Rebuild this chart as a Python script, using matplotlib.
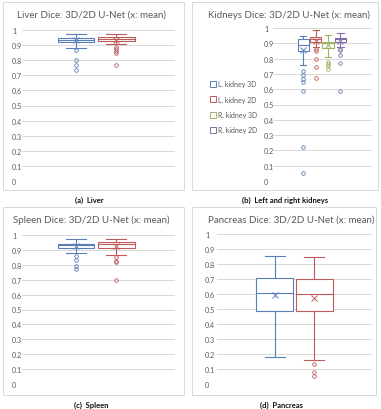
import matplotlib
matplotlib.use('Agg')
import matplotlib.pyplot as plt
from matplotlib.patches import Rectangle
from matplotlib.lines import Line2D

plt.rcParams['font.family'] = ['Lato', 'DejaVu Sans']

# ---- data ----
liver_whislo = [0.883, 0.909]
liver_q1 = [0.918, 0.929]
liver_med = [0.936, 0.940]
liver_q3 = [0.947, 0.953]
liver_whishi = [0.976, 0.976]
liver_mean = [0.931, 0.936]
liver_fliers = [[0.869, 0.800, 0.765, 0.734],
                [0.889, 0.874, 0.858, 0.845, 0.765]]

kidney_labels = ['L. kidney 3D', 'L. kidney 2D', 'R. kidney 3D', 'R. kidney 2D']
kidney_whislo = [0.755, 0.875, 0.810, 0.875]
kidney_q1 = [0.850, 0.908, 0.869, 0.908]
kidney_med = [0.890, 0.925, 0.900, 0.925]
kidney_q3 = [0.926, 0.941, 0.908, 0.936]
kidney_whishi = [0.950, 0.984, 0.951, 0.969]
kidney_mean = [0.858, 0.915, 0.886, 0.915]
kidney_fliers = [[0.716, 0.694, 0.668, 0.644, 0.585, 0.220, 0.050],
                 [0.860, 0.847, 0.795, 0.747, 0.675],
                 [0.780, 0.765, 0.750, 0.733],
                 [0.865, 0.853, 0.825, 0.770, 0.585]]

spleen_whislo = [0.882, 0.864]
spleen_q1 = [0.910, 0.910]
spleen_med = [0.930, 0.940]
spleen_q3 = [0.940, 0.950]
spleen_whishi = [0.976, 0.975]
spleen_mean = [0.925, 0.925]
spleen_fliers = [[0.862, 0.833, 0.793, 0.773],
                 [0.851, 0.827, 0.818, 0.700]]

pancreas_whislo = [0.178, 0.162]
pancreas_q1 = [0.489, 0.484]
pancreas_med = [0.609, 0.602]
pancreas_q3 = [0.709, 0.702]
pancreas_whishi = [0.851, 0.850]
pancreas_mean = [0.596, 0.573]
pancreas_fliers = [[], [0.133, 0.078, 0.056]]

colors = ['#5A7EB6', '#BE5A57', '#9CB565', '#8470A6']
yticks = [0, 0.1, 0.2, 0.3, 0.4, 0.5, 0.6, 0.7, 0.8, 0.9, 1]
ytick_labels = ['0', '0.1', '0.2', '0.3', '0.4', '0.5', '0.6', '0.7', '0.8', '0.9', '1']

W, H = 381, 410
fig = plt.figure(figsize=(W / 100, H / 100), dpi=100)
fig.patch.set_facecolor('white')


def px_ax(x0, y0, x1, y1):
    # axes from pixel box (y measured from top)
    return fig.add_axes([x0 / W, 1 - y1 / H, (x1 - x0) / W, (y1 - y0) / H])


def draw_box(ax, whislo, q1, med, q3, whishi, mean, fliers, xlim, lab_pad):
    n = len(med)
    for i in range(n):
        st = [dict(whislo=whislo[i], q1=q1[i], med=med[i], q3=q3[i],
                   whishi=whishi[i], mean=mean[i], fliers=fliers[i])]
        c = colors[i]
        ax.bxp(st, positions=[i + 1], widths=0.92, capwidths=0.5,
               showmeans=True, patch_artist=True,
               boxprops=dict(facecolor='white', edgecolor=c, linewidth=0.8),
               medianprops=dict(color=c, linewidth=0.8),
               whiskerprops=dict(color=c, linewidth=0.8),
               capprops=dict(color=c, linewidth=0.8),
               meanprops=dict(marker='x', markeredgecolor=c, markersize=4.5,
                              markeredgewidth=0.7),
               flierprops=dict(marker='o', markerfacecolor='none',
                               markeredgecolor=c, markersize=2.6,
                               markeredgewidth=0.6))
    ax.set_xlim(*xlim)
    ax.set_ylim(0, 1)
    ax.set_yticks(yticks)
    ax.set_yticklabels(ytick_labels, ha='left')
    ax.set_xticks([])
    ax.tick_params(axis='y', length=0, pad=lab_pad, labelsize=5.2, labelcolor='#595959')
    ax.grid(axis='y', color='#D9D9D9', linewidth=0.7)
    ax.set_axisbelow(True)
    for s in ax.spines.values():
        s.set_visible(False)
    for art in ax.get_children():
        if isinstance(art, Line2D):
            art.set_clip_on(False)


# chart area borders
for (x0, y0, x1, y1) in [(3, 3, 184, 191), (192, 3, 378, 191),
                         (3, 208, 184, 396), (192, 208, 376, 396)]:
    fig.add_artist(Rectangle((x0 / W, 1 - y1 / H), (x1 - x0) / W, (y1 - y0) / H,
                             transform=fig.transFigure, facecolor='none',
                             edgecolor='#D9D9D9', linewidth=0.7))

# (a) liver
ax1 = px_ax(22, 31, 175, 182)
draw_box(ax1, liver_whislo, liver_q1, liver_med, liver_q3, liver_whishi,
         liver_mean, liver_fliers, (-0.35, 3.47), 7.2)

# (b) kidneys
ax2 = px_ax(273, 29, 372, 182)
draw_box(ax2, kidney_whislo, kidney_q1, kidney_med, kidney_q3, kidney_whishi,
         kidney_mean, kidney_fliers, (-1.45, 6.55), 6.5)

# (c) spleen
ax3 = px_ax(22, 236, 175, 385)
draw_box(ax3, spleen_whislo, spleen_q1, spleen_med, spleen_q3, spleen_whishi,
         spleen_mean, spleen_fliers, (-0.35, 3.47), 7.2)

# (d) pancreas
ax4 = px_ax(217, 235, 372, 385)
draw_box(ax4, pancreas_whislo, pancreas_q1, pancreas_med, pancreas_q3,
         pancreas_whishi, pancreas_mean, pancreas_fliers, (-0.45, 3.45), 8.6)

# titles
title_kw = dict(ha='center', va='center', fontsize=7.0, color='#595959')
fig.text(91.7 / W, 1 - 15.5 / H, 'Liver Dice: 3D/2D U-Net (x: mean)', **title_kw)
fig.text(289 / W, 1 - 15.5 / H, 'Kidneys Dice: 3D/2D U-Net (x: mean)', **title_kw)
fig.text(91.7 / W, 1 - 220 / H, 'Spleen Dice: 3D/2D U-Net (x: mean)', **title_kw)
fig.text(291 / W, 1 - 220 / H, 'Pancreas Dice: 3D/2D U-Net (x: mean)', **title_kw)

# kidney legend
handles = [Line2D([], [], marker='s', linestyle='none', markerfacecolor='white',
                  markeredgecolor=c, markersize=5, markeredgewidth=0.7)
           for c in colors]
leg = fig.legend(handles, kidney_labels, loc='upper left',
                 bbox_to_anchor=(205 / W, 1 - 78 / H), frameon=False,
                 fontsize=5.0, labelspacing=1.2, handletextpad=0.1,
                 handlelength=1.2, borderpad=0)
for t in leg.get_texts():
    t.set_color('#595959')

# captions
cap_kw = dict(ha='center', va='center', fontsize=5.5, fontweight='bold', color='#111111')
fig.text(89.5 / W, 1 - 200 / H, '(a)  Liver', **cap_kw)
fig.text(285 / W, 1 - 200 / H, '(b)  Left and right kidneys', **cap_kw)
fig.text(91.5 / W, 1 - 405 / H, '(c)  Spleen', **cap_kw)
fig.text(281.5 / W, 1 - 405 / H, '(d)  Pancreas', **cap_kw)

fig.savefig('out.png', dpi=100, facecolor='white')
